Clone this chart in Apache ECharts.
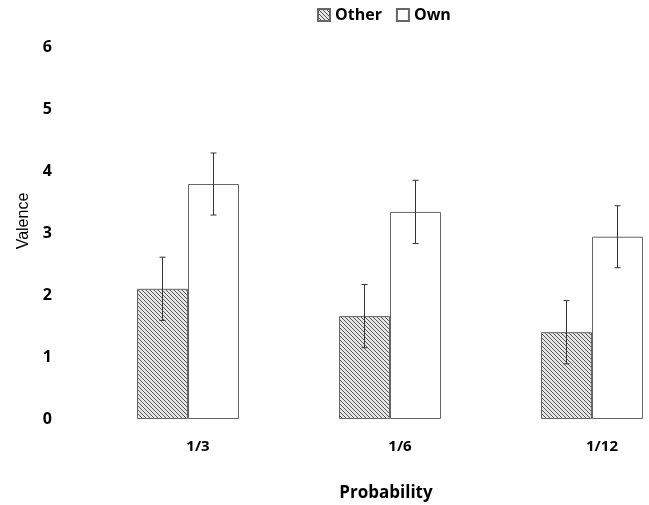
<!DOCTYPE html>
<html>
<head>
<meta charset="utf-8">
<script src="https://cdn.jsdelivr.net/npm/echarts@6/dist/echarts.min.js"></script>
<style>
  html, body { margin: 0; padding: 0; background: #fff; }
  #chart { width: 649px; height: 505px; }
</style>
</head>
<body>
<div id="chart"></div>
<script>
const categories = ['1/3', '1/6', '1/12'];
const otherValues = [2.10, 1.66, 1.40];
const ownValues = [3.79, 3.34, 2.94];
const otherErr = [0.51, 0.51, 0.51];
const ownErr = [0.50, 0.51, 0.50];

// hatch pattern for "Other"
function hatch() {
  const c = document.createElement('canvas');
  c.width = 4; c.height = 4;
  const ctx = c.getContext('2d');
  ctx.fillStyle = '#e6e6e6';
  ctx.fillRect(0, 0, 4, 4);
  ctx.strokeStyle = '#555';
  ctx.lineWidth = 1;
  ctx.beginPath();
  ctx.moveTo(-1, -1); ctx.lineTo(5, 5);
  ctx.moveTo(-1, 3); ctx.lineTo(1, 5);
  ctx.moveTo(3, -1); ctx.lineTo(5, 1);
  ctx.stroke();
  return c;
}
const pattern = { image: hatch(), repeat: 'repeat' };

const barW = 51;
const font = '"Open Sans", sans-serif';

function errData(vals, errs) {
  return vals.map((v, i) => [i, v - errs[i], v + errs[i]]);
}

function errRender(offset) {
  return function (params, api) {
    const i = api.value(0);
    const lo = api.coord([i, api.value(1)]);
    const hi = api.coord([i, api.value(2)]);
    const x = lo[0] + offset;
    const cap = 3;
    const style = { stroke: '#333', lineWidth: 1 };
    return {
      type: 'group',
      children: [
        { type: 'line', shape: { x1: x, y1: lo[1], x2: x, y2: hi[1] }, style },
        { type: 'line', shape: { x1: x - cap, y1: lo[1], x2: x + cap, y2: lo[1] }, style },
        { type: 'line', shape: { x1: x - cap, y1: hi[1], x2: x + cap, y2: hi[1] }, style }
      ]
    };
  };
}

const chart = echarts.init(document.getElementById('chart'));
chart.setOption({
  animation: false,
  textStyle: { fontFamily: font },
  legend: {
    top: 2,
    left: 312,
    icon: 'rect',
    itemWidth: 12,
    itemHeight: 12,
    itemGap: 14,
    textStyle: { fontSize: 16, fontWeight: 'bold', color: '#000', fontFamily: font },
    data: ['Other', 'Own']
  },
  grid: { left: 87, width: 606, top: 47, bottom: 86, outerBoundsMode: 'none' },
  xAxis: {
    type: 'category',
    data: categories,
    axisLine: { show: false },
    axisTick: { show: false },
    axisLabel: { fontSize: 15, fontWeight: 'bold', color: '#000', margin: 20, padding: [0, 0, 0, 20] },
    name: 'Probability',
    nameLocation: 'middle',
    nameGap: 66,
    nameTextStyle: { fontSize: 17, fontWeight: 'bold', color: '#000', padding: [0, 8, 0, 0] }
  },
  yAxis: {
    type: 'value',
    min: 0,
    max: 6,
    interval: 1,
    splitLine: { show: false },
    axisLine: { show: false },
    axisTick: { show: false },
    axisLabel: { fontSize: 16, fontWeight: 'bold', color: '#000', margin: 35 },
    name: 'Valence',
    nameLocation: 'middle',
    nameGap: 51,
    nameTextStyle: { fontSize: 16, color: '#000', fontFamily: '"Liberation Sans", Arial, sans-serif', padding: [0, 0, 0, 24] }
  },
  series: [
    {
      name: 'Other',
      type: 'bar',
      data: otherValues,
      barWidth: barW,
      barGap: '0%',
      itemStyle: { color: pattern, borderColor: '#666', borderWidth: 1 }
    },
    {
      name: 'Own',
      type: 'bar',
      data: ownValues,
      barWidth: barW,
      barGap: '0%',
      itemStyle: { color: '#fff', borderColor: '#666', borderWidth: 1 }
    },
    {
      type: 'custom',
      data: errData(otherValues, otherErr),
      renderItem: errRender(-barW / 2),
      encode: { x: 0, y: [1, 2] },
      z: 5
    },
    {
      type: 'custom',
      data: errData(ownValues, ownErr),
      renderItem: errRender(barW / 2),
      encode: { x: 0, y: [1, 2] },
      z: 5
    }
  ]
});
</script>
</body>
</html>
